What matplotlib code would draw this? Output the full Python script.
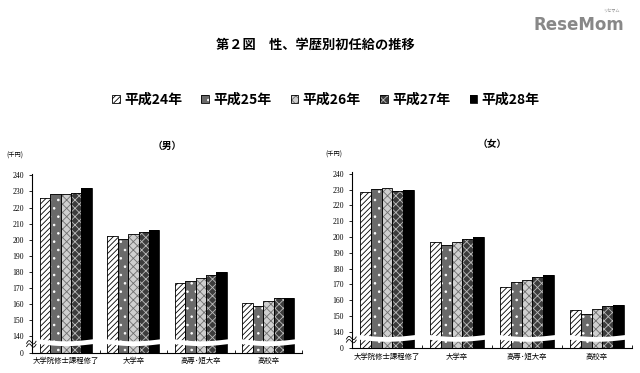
import numpy as np
import matplotlib
matplotlib.use("Agg")
import matplotlib.pyplot as plt
import matplotlib.patches as mpatches
from matplotlib.legend_handler import HandlerTuple

plt.rcParams['font.family'] = ['Noto Sans CJK JP', 'DejaVu Sans']
plt.rcParams['hatch.linewidth'] = 0.6

categories = ["大学院修士課程修了", "大学卒", "高専･短大卒", "高校卒"]
years = ["平成24年", "平成25年", "平成26年", "平成27年", "平成28年"]

# 千円, rows = years, cols = categories
male = [
    [226.1, 202.0, 173.2, 160.5],
    [228.3, 200.6, 174.2, 158.9],
    [228.3, 203.3, 176.2, 161.7],
    [229.1, 204.6, 177.7, 163.8],
    [231.9, 206.2, 179.8, 163.8],
]
female = [
    [228.6, 196.7, 168.5, 153.6],
    [230.5, 195.2, 171.6, 151.3],
    [231.1, 196.9, 173.1, 154.2],
    [229.0, 198.7, 174.8, 156.2],
    [230.0, 200.1, 175.8, 157.2],
]
yticks = [0, 140, 150, 160, 170, 180, 190, 200, 210, 220, 230, 240]

# fill colour, hatch, hatch colour
styles = [
    ("white", "//////", "black"),
    ("#6a6a6a", "..", "white"),
    ("#cfcfcf", "xxxx", "#6f6f6f"),
    ("#3c3c3c", "xxxx", "#bdbdbd"),
    ("black", "", "black"),
]

B = 10.5  # height given to the 0-140 part of the broken axis


def fwd(y):
    y = np.asarray(y, dtype=float)
    return np.where(y < 140, y * B / 140, y - 140 + B)


def inv(y):
    y = np.asarray(y, dtype=float)
    return np.where(y < B, y * 140 / B, y + 140 - B)


def draw_panel(ax, data, title):
    ax.set_yscale('function', functions=(fwd, inv))
    x = np.arange(len(categories))
    w = 0.155
    for i, vals in enumerate(data):
        fc, h, hc = styles[i]
        pos = x + (i - 2) * w
        ax.bar(pos, vals, w, color=fc, hatch=h, edgecolor=hc, linewidth=0, zorder=2)
        ax.bar(pos, vals, w, fill=False, edgecolor="black", linewidth=0.6, zorder=3)

    # white wave band showing the break
    t = np.linspace(0, 1, 60)
    for c in x:
        xs = c - 2.6 * w + t * 5.2 * w
        top = 8.8 - 1.3 * np.sin(np.pi * t)
        bot = 5.8 - 1.3 * np.sin(np.pi * t)
        ax.fill_between(xs, inv(bot), inv(top), color="white", linewidth=0, zorder=4)

    ax.set_xlim(-0.5, len(categories) - 0.5)
    ax.set_ylim(0, 241)
    ax.set_yticks(yticks)
    ax.set_yticklabels([str(v) for v in yticks], family="Liberation Serif", fontsize=5.5)
    ax.set_xticks(x)
    ax.set_xticklabels(categories, fontsize=5.3)
    ax.set_xticks(np.arange(len(categories) + 1) - 0.5, minor=True)
    ax.tick_params(axis='x', which='major', length=0, pad=3)
    ax.tick_params(axis='x', which='minor', length=2, direction='in', width=0.6)
    ax.tick_params(axis='y', length=2, width=0.6, pad=4)
    for s in ["top", "right"]:
        ax.spines[s].set_visible(False)
    for s in ["left", "bottom"]:
        ax.spines[s].set_linewidth(0.8)

    # squiggle on the y axis
    u = np.linspace(0, 1, 30)
    for off in (0.0, 0.018):
        ax.plot(-0.02 + 0.035 * u, 0.035 + off + 0.012 * np.sin(2 * np.pi * u) + 0.012 * u,
                transform=ax.transAxes, color="black", lw=0.6, clip_on=False, zorder=5)

    ax.text(-0.095, 1.1, "(千円)", transform=ax.transAxes, fontsize=4.5, ha="left", va="center")
    ax.set_title(title, fontsize=7, fontweight="bold", pad=18)


fig = plt.figure(figsize=(6.4, 3.73), dpi=100)
ax1 = fig.add_axes([0.05, 0.054, 0.422, 0.48])
ax2 = fig.add_axes([0.55, 0.066, 0.4375, 0.472])
draw_panel(ax1, male, "（男）")
draw_panel(ax2, female, "（女）")

handles = []
for fc, h, hc in styles:
    p1 = mpatches.Patch(facecolor=fc, hatch=h, edgecolor=hc, linewidth=0)
    p2 = mpatches.Patch(fill=False, edgecolor="black", linewidth=0.6)
    handles.append((p1, p2))
fig.legend(handles, years, handler_map={tuple: HandlerTuple(ndivide=1, pad=0)},
           ncol=5, loc="center", bbox_to_anchor=(0.509, 0.732), frameon=False,
           handlelength=0.55, handleheight=0.55, handletextpad=0.3, columnspacing=1.4,
           prop={"family": ["Noto Sans CJK JP"], "weight": "bold", "size": 10})

fig.text(0.492, 0.879, "第２図　性、学歴別初任給の推移", ha="center", va="center",
         fontsize=9.5, fontweight="bold")
fig.text(0.905, 0.932, "ReseMom", ha="center", va="center", fontsize=12,
         fontweight="bold", color="#888888", family="DejaVu Sans")
fig.text(0.955, 0.968, "リセマム", ha="center", va="center", fontsize=3, color="#888888")

fig.savefig("out.png", dpi=100)
